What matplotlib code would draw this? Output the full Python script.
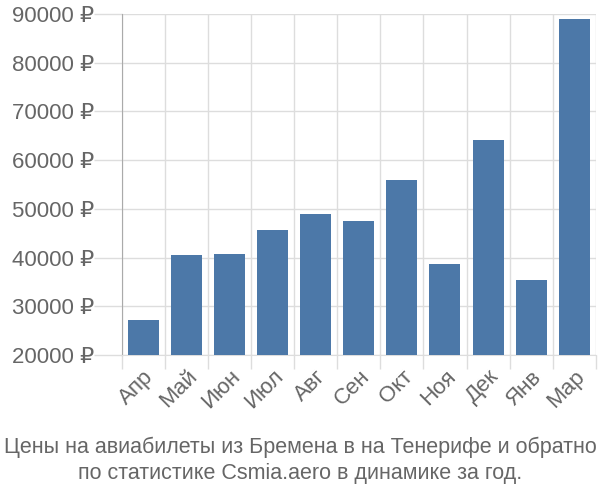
import matplotlib.pyplot as plt
import numpy as np

plt.rcParams['font.family'] = ['Liberation Sans', 'DejaVu Sans']

# Данные
months = ['Апр', 'Май', 'Июн', 'Июл', 'Авг', 'Сен', 'Окт', 'Ноя', 'Дек', 'Янв', 'Мар']
prices = [27200, 40500, 40700, 45700, 48900, 47600, 55900, 38700, 64100, 35400, 88900]
yticks = [20000, 30000, 40000, 50000, 60000, 70000, 80000, 90000]

text_color = '#666666'
grid_color = '#dddddd'

fig = plt.figure(figsize=(6, 5), dpi=100)
ax = fig.add_axes([0.203, 0.29, 0.79, 0.682])

x = np.arange(len(months))
ax.bar(x, prices, width=0.72, color='#4c78a8', zorder=3)

ax.set_xlim(-0.5, len(months) - 0.5)
ax.set_ylim(20000, 90000)

ax.set_yticks(yticks)
ax.set_yticklabels([f'{v} ₽' for v in yticks])
ax.set_xticks(x)
ax.set_xticklabels(months, rotation=45, ha='right', rotation_mode='anchor')
ax.set_xticks(np.arange(-0.5, len(months)), minor=True)

ax.tick_params(axis='x', which='major', length=0, pad=8, labelsize=16, labelcolor=text_color)
ax.tick_params(axis='x', which='minor', length=10, color=grid_color, width=1)
ax.tick_params(axis='y', length=20, color=grid_color, width=1, labelsize=16,
               labelcolor=text_color, pad=0)

ax.grid(True, which='minor', axis='x', color=grid_color, lw=1, zorder=0)
ax.grid(True, which='major', axis='y', color=grid_color, lw=1, zorder=0)

for s in ['top', 'right']:
    ax.spines[s].set_visible(False)
ax.spines['left'].set_color('#aaaaaa')
ax.spines['bottom'].set_color(grid_color)

fig.text(0.5, 0.105, 'Цены на авиабилеты из Бремена в на Тенерифе и обратно',
         ha='center', va='center', fontsize=15.5, color=text_color)
fig.text(0.5, 0.052, 'по статистике Csmia.aero в динамике за год.',
         ha='center', va='center', fontsize=15.5, color=text_color)

fig.savefig('out.png', dpi=100)
